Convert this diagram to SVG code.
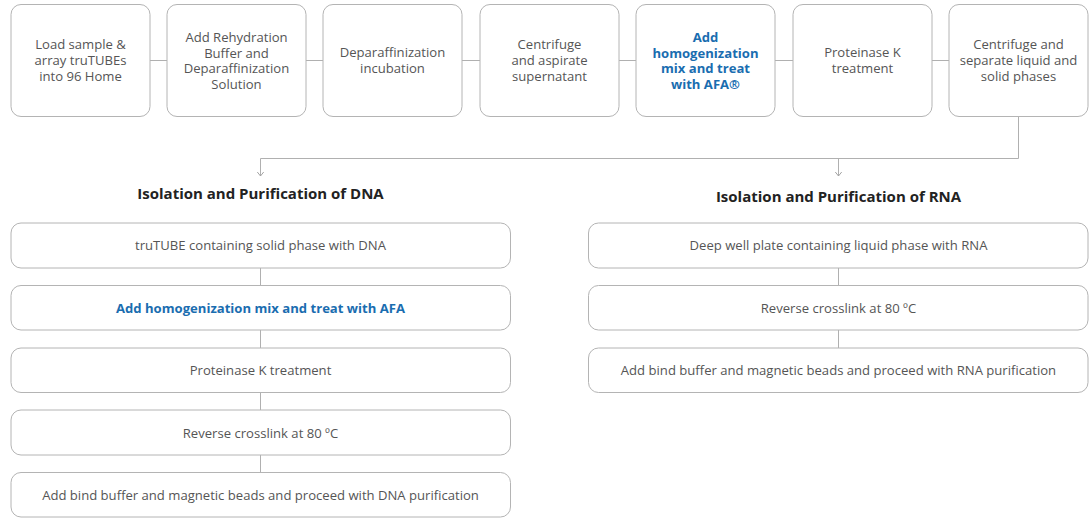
<svg xmlns="http://www.w3.org/2000/svg" width="1092" height="518" viewBox="0 0 1092 518">
<defs>
<style>
.box{fill:#fff;stroke:#b4b4b4;stroke-width:1}
.t{font-family:"Open Sans","Noto Sans","Liberation Sans",sans-serif;font-size:13.1px;fill:#555;text-anchor:middle}
.hl{fill:#1a6db0;font-weight:bold}
.title{font-family:"Open Sans","Noto Sans","Liberation Sans",sans-serif;font-size:15px;font-weight:bold;fill:#222;text-anchor:middle}
.c{stroke:#b0b0b0;stroke-width:1;fill:none}
</style>
<marker id="arr" viewBox="0 0 10 10" refX="9" refY="5" markerWidth="8" markerHeight="8" markerUnits="userSpaceOnUse" orient="auto">
<path d="M4,1 L9,5 L4,9" fill="none" stroke="#a0a0a0" stroke-width="1.2"/>
</marker>
</defs>
<g id="connectors">
<path class="c" d="M150,60.5H167M306,60.5H323M462,60.5H480M619,60.5H636M775,60.5H793M932,60.5H949"/>
<path class="c" d="M1018.5,116V158.5H260.5V176" marker-end="url(#arr)"/>
<path class="c" d="M838.5,158.5V176" marker-end="url(#arr)"/>
<path class="c" d="M260.5,268V285M260.5,330V348M260.5,392V410M260.5,455V472"/>
<path class="c" d="M838.5,268V285M838.5,330V348"/>
</g>
<g id="n1"><rect class="box" x="11" y="4.5" width="139" height="112" rx="10"/>
<text class="t" x="80.5" y="49">Load sample &amp;</text><text class="t" x="80.5" y="65">array truTUBEs</text><text class="t" x="80.5" y="80.5">into 96 Home</text></g>
<g id="n2"><rect class="box" x="167" y="4.5" width="139" height="112" rx="10"/>
<text class="t" x="236.5" y="42">Add Rehydration</text><text class="t" x="236.5" y="57.5">Buffer and</text><text class="t" x="236.5" y="73">Deparaffinization</text><text class="t" x="236.5" y="88.5">Solution</text></g>
<g id="n3"><rect class="box" x="323" y="4.5" width="139" height="112" rx="10"/>
<text class="t" x="392.5" y="57">Deparaffinization</text><text class="t" x="392.5" y="73">incubation</text></g>
<g id="n4"><rect class="box" x="480" y="4.5" width="139" height="112" rx="10"/>
<text class="t" x="549.5" y="49">Centrifuge</text><text class="t" x="549.5" y="65">and aspirate</text><text class="t" x="549.5" y="80.5">supernatant</text></g>
<g id="n5"><rect class="box" x="636" y="4.5" width="139" height="112" rx="10"/>
<text class="t hl" x="705.5" y="42">Add</text><text class="t hl" x="705.5" y="57.5">homogenization</text><text class="t hl" x="705.5" y="73">mix and treat</text><text class="t hl" x="705.5" y="88.5">with AFA®</text></g>
<g id="n6"><rect class="box" x="793" y="4.5" width="139" height="112" rx="10"/>
<text class="t" x="862.5" y="57">Proteinase K</text><text class="t" x="862.5" y="73">treatment</text></g>
<g id="n7"><rect class="box" x="949" y="4.5" width="139" height="112" rx="10"/>
<text class="t" x="1018.5" y="49">Centrifuge and</text><text class="t" x="1018.5" y="65">separate liquid and</text><text class="t" x="1018.5" y="80.5">solid phases</text></g>
<g id="dna-title"><text class="title" x="260.5" y="199">Isolation and Purification of DNA</text></g>
<g id="rna-title"><text class="title" x="838.5" y="202">Isolation and Purification of RNA</text></g>
<g id="d1"><rect class="box" x="11" y="223" width="499.5" height="45" rx="10"/><text class="t" x="260.5" y="250">truTUBE containing solid phase with DNA</text></g>
<g id="d2"><rect class="box" x="11" y="285.5" width="499.5" height="44.5" rx="10"/><text class="t hl" x="260.5" y="313">Add homogenization mix and treat with AFA</text></g>
<g id="d3"><rect class="box" x="11" y="348" width="499.5" height="44.5" rx="10"/><text class="t" x="260.5" y="375">Proteinase K treatment</text></g>
<g id="d4"><rect class="box" x="11" y="410" width="499.5" height="45" rx="10"/><text class="t" x="260.5" y="437.5">Reverse crosslink at 80 ºC</text></g>
<g id="d5"><rect class="box" x="11" y="472.5" width="499.5" height="44.5" rx="10"/><text class="t" x="260.5" y="500">Add bind buffer and magnetic beads and proceed with DNA purification</text></g>
<g id="r1"><rect class="box" x="588.5" y="223" width="499.5" height="45" rx="10"/><text class="t" x="838.5" y="250">Deep well plate containing liquid phase with RNA</text></g>
<g id="r2"><rect class="box" x="588.5" y="285.5" width="499.5" height="44.5" rx="10"/><text class="t" x="838.5" y="313">Reverse crosslink at 80 ºC</text></g>
<g id="r3"><rect class="box" x="588.5" y="348" width="499.5" height="44.5" rx="10"/><text class="t" x="838.5" y="375">Add bind buffer and magnetic beads and proceed with RNA purification</text></g>
</svg>
